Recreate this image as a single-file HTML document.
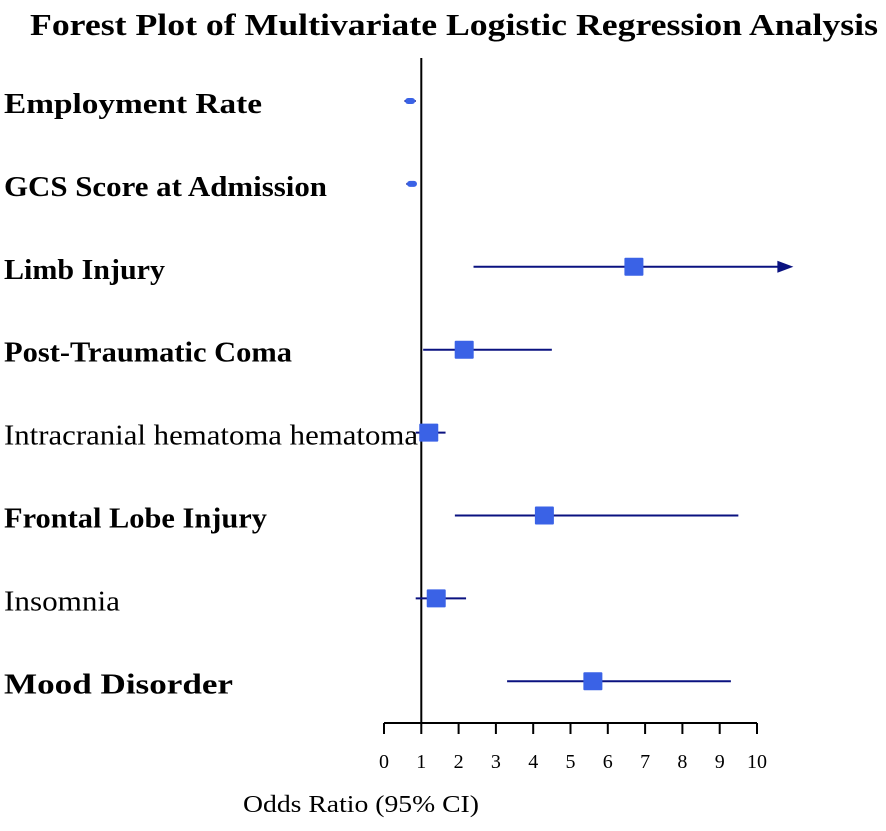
<!DOCTYPE html>
<html><head><meta charset="utf-8"><style>
body{margin:0;background:#fff;}
svg text{font-family:"Liberation Serif",serif;}
</style></head><body>
<svg width="886" height="826" viewBox="0 0 886 826">
<text x="454" y="35" text-anchor="middle" font-size="31" font-weight="bold" textLength="848" lengthAdjust="spacingAndGlyphs">Forest Plot of Multivariate Logistic Regression Analysis</text>
<g id="labels"></g>
<g id="axis"></g>
<g id="marks"></g>
<text x="361" y="812" text-anchor="middle" font-size="24" textLength="236" lengthAdjust="spacingAndGlyphs">Odds Ratio (95% CI)</text>
</svg>
<script>
const categories=["Employment Rate","GCS Score at Admission","Limb Injury","Post-Traumatic Coma","Intracranial  hematoma hematoma","Frontal Lobe Injury","Insomnia","Mood Disorder"];
const boldLabels=[true,true,true,true,false,true,false,true];
const labelWidths=[258,323,161,288,414,263,116,229];
const orValues=[0.7,0.75,6.7,2.15,1.2,4.3,1.4,5.6];
const ciLow=[0.55,0.6,2.4,1.05,0.85,1.9,0.85,3.3];
const ciHigh=[0.85,0.85,11.0,4.5,1.65,9.5,2.2,9.3];
const bigMarker=[false,false,true,true,true,true,true,true];
const ticks=[0,1,2,3,4,5,6,7,8,9,10];
const NS="http://www.w3.org/2000/svg";
const x=v=>384+v*37.3;
const y=i=>101+i*82.9;
function mk(t,a,p){const e=document.createElementNS(NS,t);for(const k in a)e.setAttribute(k,a[k]);p.appendChild(e);return e;}
const L=document.getElementById('labels'),A=document.getElementById('axis'),M=document.getElementById('marks');
categories.forEach((c,i)=>{const t=mk('text',{x:4,y:y(i)+12,'font-size':28,'font-weight':boldLabels[i]?'bold':'normal',textLength:labelWidths[i],lengthAdjust:'spacingAndGlyphs'},L);t.textContent=c;

});
const ax=mk('line',{x1:x(0),x2:x(10),y1:723,y2:723,stroke:'#000','stroke-width':2},A);


const ref=mk('line',{x1:x(1),x2:x(1),y1:58,y2:723,stroke:'#000','stroke-width':2},A);


ticks.forEach(v=>{const tk=mk('line',{x1:x(v),x2:x(v),y1:723,y2:734,stroke:'#000','stroke-width':2},A);


const t=mk('text',{x:x(v),y:768,'text-anchor':'middle','font-size':20},A);t.textContent=v;

});
categories.forEach((c,i)=>{const yy=y(i);const hi=Math.min(ciHigh[i],10.6);
const ln=mk('line',{x1:x(ciLow[i]),x2:x(hi),y1:yy,y2:yy,stroke:'#0a1280','stroke-width':2},M);


if(ciHigh[i]>10){const ar=mk('polygon',{points:`${x(hi)-2},${yy-6} ${x(hi)+14},${yy} ${x(hi)-2},${yy+6}`,fill:'#0a1280'},M);

}
const w=bigMarker[i]?19:10,h=bigMarker[i]?18:6;
const r=mk('rect',{x:x(orValues[i])-w/2,y:yy-h/2,width:w,height:h,fill:'#3a62e6',rx:bigMarker[i]?1:3},M);

});
</script>
</body></html>
